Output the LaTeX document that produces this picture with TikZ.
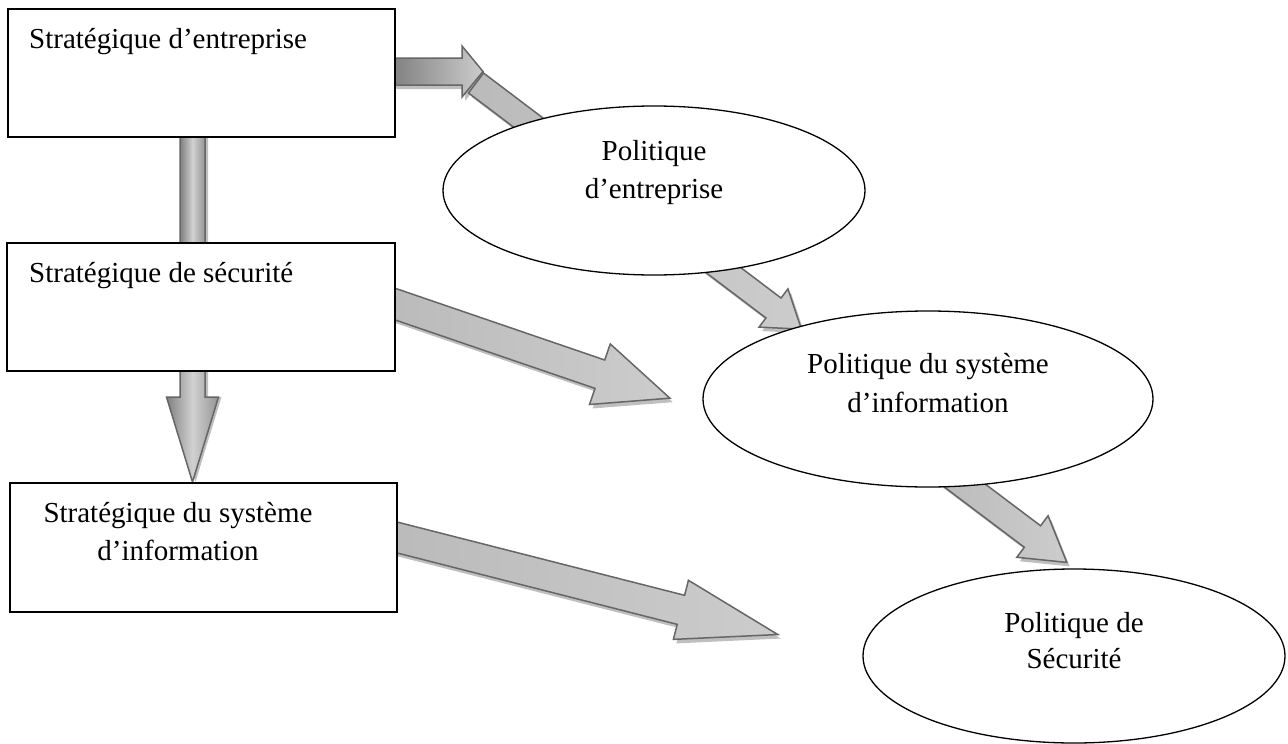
\documentclass[tikz,border=0pt]{standalone}
\usepackage{fontspec}
\setmainfont{Liberation Serif}
\usetikzlibrary{shapes.geometric}

\tikzset{
  box/.style={draw=black, line width=1.4pt, fill=white, rectangle, inner sep=0pt},
  oval/.style={draw=black, line width=1.3pt, fill=white, ellipse, inner sep=0pt},
  txt/.style={inner sep=0pt, font=\fontsize{29}{38}\selectfont},
  arrowline/.style={draw=black!60, line width=1.5pt, line join=miter},
  arrowshadow/.style={fill=black!25},
  vshade/.style={left color=black!50, right color=black!42, middle color=black!18},
  hshade/.style={left color=black!52, right color=black!20},
  dshade/.style={left color=black!27, right color=black!20},
}

% block arrow along a direction: start x, start y, angle (clockwise, degrees),
% total length, shaft half width, head half width, head length, fill style
\newcommand\blockarrow[8]{%
  \begin{scope}[shift={(#1+3,#2+4)}, rotate=-#3]
    \fill[arrowshadow] (0,-#5) -- (#4-#7,-#5) -- (#4-#7,-#6) -- (#4,0)
      -- (#4-#7,#6) -- (#4-#7,#5) -- (0,#5) -- cycle;
  \end{scope}
  \begin{scope}[shift={(#1,#2)}, rotate=-#3]
    \path[arrowline,#8] (0,-#5) -- (#4-#7,-#5) -- (#4-#7,-#6) -- (#4,0)
      -- (#4-#7,#6) -- (#4-#7,#5) -- (0,#5) -- cycle;
  \end{scope}}

% downward block arrow: centre x, top y, length, shaft half width,
% head half width, head length
\newcommand\blockarrowdown[6]{%
  \fill[arrowshadow] (#1+3-#4,#2) -- (#1+3+#4,#2) -- (#1+3+#4,#2+#3-#6)
    -- (#1+3+#5,#2+#3-#6) -- (#1+3,#2+#3) -- (#1+3-#5,#2+#3-#6)
    -- (#1+3-#4,#2+#3-#6) -- cycle;
  \path[arrowline,vshade] (#1-#4,#2) -- (#1+#4,#2) -- (#1+#4,#2+#3-#6)
    -- (#1+#5,#2+#3-#6) -- (#1,#2+#3) -- (#1-#5,#2+#3-#6)
    -- (#1-#4,#2+#3-#6) -- cycle;}

\begin{document}
\begin{tikzpicture}[x=1pt, y=-1pt]
\useasboundingbox (0,0) rectangle (1288,744);

% connecting block arrows (drawn first, boxes and ovals lie on top)
\blockarrowdown{192.5}{125}{165}{12.5}{12.5}{30}
\blockarrowdown{192.5}{360}{122}{12.5}{26}{85}
\blockarrow{385}{71.5}{0}{98}{13.5}{25.5}{21}{hshade}
\blockarrow{476}{83}{37.1}{408}{12.5}{24}{35}{dshade}
\blockarrow{385.5}{300.8}{18.9}{300.6}{15}{32}{74}{dshade}
\blockarrow{387.3}{535}{14.3}{403}{15}{30.5}{100}{dshade}
\blockarrow{936.6}{464.3}{37}{163}{13.5}{26}{43}{dshade}

% strategy boxes
\node[box, minimum width=387, minimum height=128] (se) at (201.5,73) {};
\node[box, minimum width=388, minimum height=128] (ss) at (201,307) {};
\node[box, minimum width=387, minimum height=129] (ssi) at (203.5,547.5) {};

\node[txt, anchor=base west] (tse) at (29,48) {Stratégique d’entreprise};
\node[txt, anchor=base west] (tss) at (29,282) {Stratégique de sécurité};
\node[txt, anchor=base] (tssi1) at (178,522) {Stratégique du système};
\node[txt, anchor=base] (tssi2) at (178,560) {d’information};

% policy ovals
\node[oval, minimum width=422, minimum height=169] (pe) at (654,190.5) {};
\node[oval, minimum width=450, minimum height=176] (psi) at (928,399) {};
\node[oval, minimum width=422, minimum height=174] (ps) at (1074,656) {};

\node[txt, anchor=base] (tpe1) at (654,160) {Politique};
\node[txt, anchor=base] (tpe2) at (654,198) {d’entreprise};
\node[txt, anchor=base] (tpsi1) at (928,373) {Politique du système};
\node[txt, anchor=base] (tpsi2) at (928,412) {d’information};
\node[txt, anchor=base] (tps1) at (1074,632) {Politique de};
\node[txt, anchor=base] (tps2) at (1074,668) {Sécurité};
\end{tikzpicture}
\end{document}
